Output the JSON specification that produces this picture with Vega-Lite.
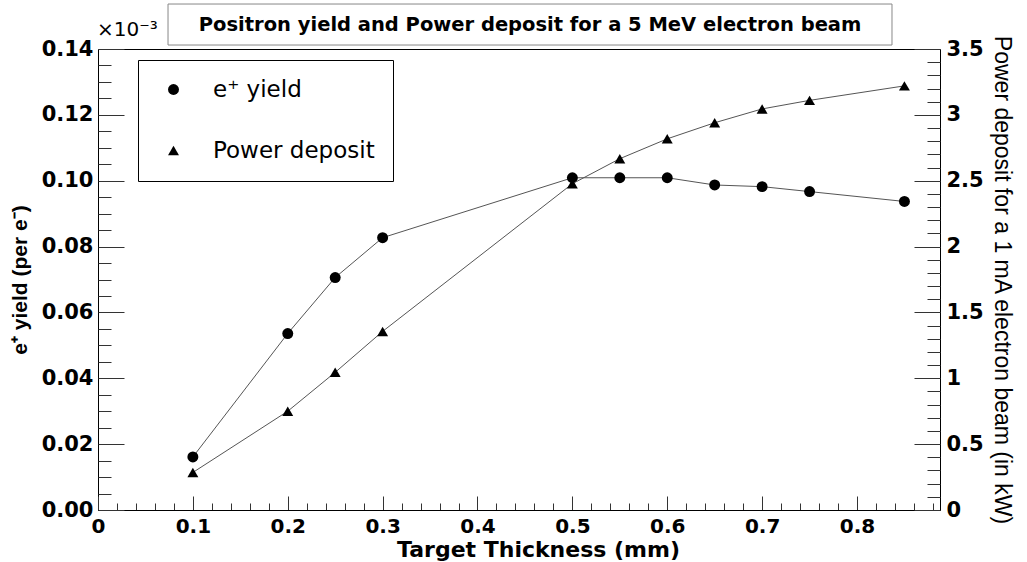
{
  "$schema": "https://vega.github.io/schema/vega-lite/v6.json",
  "width": 842,
  "height": 461,
  "autosize": {"type": "none"},
  "padding": {"left": 98, "top": 49, "right": 87, "bottom": 52},
  "background": "white",
  "config": {
    "view": {"stroke": "black", "strokeWidth": 1},
    "axis": {
      "grid": false,
      "zindex": 1,
      "domainColor": "black",
      "labelFont": "DejaVu Sans",
      "labelFontWeight": "bold",
      "labelFontSize": 21,
      "labelColor": "black",
      "ticks": true,
      "tickColor": "#333",
      "tickWidth": 1,
      "tickCount": 1000,
      "titleColor": "black",
      "labelOverlap": false,
      "labelFlush": false,
      "labelBound": false
    },
    "legend": {
      "orient": "none",
      "legendX": 40,
      "legendY": 11,
      "strokeColor": "black",
      "fillColor": "white",
      "padding": 18,
      "symbolSize": 120,
      "symbolFillColor": "black",
      "symbolStrokeColor": "black",
      "symbolStrokeWidth": 0,
      "labelFont": "DejaVu Sans",
      "labelFontSize": 23,
      "labelColor": "black",
      "labelLimit": 400,
      "rowPadding": 37,
      "labelOffset": 28,
      "symbolOffset": 6
    }
  },
  "data": {
    "values": [
      {"t": 0.1, "yield": 0.0161, "power": 0.285},
      {"t": 0.2, "yield": 0.0536, "power": 0.75},
      {"t": 0.25, "yield": 0.0706, "power": 1.045},
      {"t": 0.3, "yield": 0.0827, "power": 1.356},
      {"t": 0.5, "yield": 0.1009, "power": 2.477},
      {"t": 0.55, "yield": 0.1009, "power": 2.667},
      {"t": 0.6, "yield": 0.1009, "power": 2.818},
      {"t": 0.65, "yield": 0.0987, "power": 2.94},
      {"t": 0.7, "yield": 0.0982, "power": 3.045},
      {"t": 0.75, "yield": 0.0967, "power": 3.11},
      {"t": 0.85, "yield": 0.0937, "power": 3.22}
    ]
  },
  "layer": [
    {
      "layer": [
        {
          "mark": {"type": "line", "color": "#555", "strokeWidth": 1},
          "encoding": {
            "x": {
              "field": "t",
              "type": "quantitative",
              "scale": {"domain": [0, 0.8875], "nice": false, "zero": false},
              "axis": {
                "title": "Target Thickness (mm)",
                "titleFont": "DejaVu Sans",
                "titleFontWeight": "bold",
                "titleFontSize": 22,
                "titleX": 440,
                "titleY": 46,
                "titleAlign": "center",
                "titleBaseline": "alphabetic",
                "tickCount": 1000,
                "values": [0, 0.02, 0.04, 0.06, 0.08, 0.1, 0.12, 0.14, 0.16, 0.18, 0.2, 0.22, 0.24, 0.26, 0.28, 0.3, 0.32, 0.34, 0.36, 0.38, 0.4, 0.42, 0.44, 0.46, 0.48, 0.5, 0.52, 0.54, 0.56, 0.58, 0.6, 0.62, 0.64, 0.66, 0.68, 0.7, 0.72, 0.74, 0.76, 0.78, 0.8, 0.82, 0.84, 0.86, 0.88],
                "labelExpr": "abs(datum.value*10-round(datum.value*10))<0.001 ? (datum.value==0 ? '0' : format(datum.value, '.1f')) : ''",
                "tickSize": {"condition": {"test": "abs(datum.value*10-round(datum.value*10))<0.001", "value": -14}, "value": -7},
                "labelFontSize": 20,
                "labelPadding": 20
              }
            },
            "y": {
              "field": "yield",
              "type": "quantitative",
              "scale": {"domain": [0, 0.14], "nice": false, "zero": false},
              "axis": {
                "orient": "left",
                "offset": -26,
                "domain": false,
                "title": "e⁺ yield (per e⁻)",
                "titleFont": "Liberation Sans",
                "titleFontWeight": "bold",
                "titleFontSize": 21,
                "titlePadding": 11,
                "tickCount": 1000,
                "values": [0, 0.02, 0.04, 0.06, 0.08, 0.1, 0.12, 0.14],
                "format": ".2f",
                "tickSize": 26,
                "labelPadding": 5
              }
            }
          }
        },
        {
          "mark": {"type": "point", "filled": true, "color": "black", "size": 120, "opacity": 1},
          "encoding": {
            "x": {"field": "t", "type": "quantitative"},
            "y": {"field": "yield", "type": "quantitative"},
            "shape": {
              "datum": "e⁺ yield",
              "type": "nominal",
              "scale": {"domain": ["e⁺ yield", "Power deposit"], "range": ["circle", "triangle-up"]},
              "legend": {"title": null}
            }
          }
        },
        {
          "data": {"values": [{"label": "Positron yield and Power deposit for a 5 MeV electron beam"}]},
          "mark": {"type": "rect", "fill": "white", "stroke": "#888", "strokeWidth": 1, "clip": false},
          "encoding": {
            "x": {"datum": 0.0738, "type": "quantitative"},
            "x2": {"datum": 0.8369},
            "y": {"datum": 0.15366, "type": "quantitative"},
            "y2": {"datum": 0.14121}
          }
        },
        {
          "data": {"values": [{"label": "Positron yield and Power deposit for a 5 MeV electron beam"}]},
          "mark": {"type": "text", "font": "DejaVu Sans", "fontWeight": "bold", "fontSize": 19.5, "align": "center", "baseline": "middle", "color": "black", "clip": false},
          "encoding": {
            "x": {"datum": 0.4554, "type": "quantitative"},
            "y": {"datum": 0.14729, "type": "quantitative"},
            "text": {"field": "label"}
          }
        },
        {
          "data": {"values": [{"label": "×10⁻³"}]},
          "mark": {"type": "text", "font": "DejaVu Sans", "fontSize": 20, "align": "left", "baseline": "alphabetic", "dy": -13, "dx": -1, "color": "black", "clip": false},
          "encoding": {
            "x": {"datum": 0, "type": "quantitative"},
            "y": {"datum": 0.14, "type": "quantitative"},
            "text": {"field": "label"}
          }
        }
      ]
    },
    {
      "layer": [
        {
          "mark": {"type": "line", "color": "#555", "strokeWidth": 1},
          "encoding": {
            "x": {"field": "t", "type": "quantitative"},
            "y": {
              "field": "power",
              "type": "quantitative",
              "scale": {"domain": [0, 3.5], "nice": false, "zero": false},
              "axis": {
                "orient": "right",
                "offset": -26,
                "domain": false,
                "title": "Power deposit for a 1 mA electron beam (in kW)",
                "titleFont": "Liberation Sans",
                "titleFontWeight": "normal",
                "titleFontSize": 23,
                "titlePadding": 6,
                "tickCount": 1000,
                "values": [0, 0.5, 1, 1.5, 2, 2.5, 3, 3.5],
                "format": "~g",
                "tickSize": 26,
                "labelPadding": 6
              }
            }
          }
        },
        {
          "mark": {"type": "point", "filled": true, "color": "black", "size": 120, "opacity": 1},
          "encoding": {
            "x": {"field": "t", "type": "quantitative"},
            "y": {"field": "power", "type": "quantitative"},
            "shape": {"datum": "Power deposit", "type": "nominal"}
          }
        }
      ]
    },
    {
      "mark": {"type": "point", "opacity": 0},
      "encoding": {
        "x": {"field": "t", "type": "quantitative"},
        "y": {
          "field": "yield",
          "type": "quantitative",
          "scale": {"domain": [0, 0.14], "nice": false, "zero": false},
          "axis": {
            "orient": "left",
            "offset": -13,
            "title": null,
            "labels": false,
            "domain": false,
            "tickCount": 1000,
            "tickSize": 13,
            "values": [0.005, 0.01, 0.015, 0.025, 0.03, 0.035, 0.045, 0.05, 0.055, 0.065, 0.07, 0.075, 0.085, 0.09, 0.095, 0.105, 0.11, 0.115, 0.125, 0.13, 0.135]
          }
        }
      }
    },
    {
      "mark": {"type": "point", "opacity": 0},
      "encoding": {
        "x": {"field": "t", "type": "quantitative"},
        "y": {
          "field": "power",
          "type": "quantitative",
          "scale": {"domain": [0, 3.5], "nice": false, "zero": false},
          "axis": {
            "orient": "right",
            "offset": -13,
            "title": null,
            "labels": false,
            "domain": false,
            "tickCount": 1000,
            "tickSize": 13,
            "values": [0.1, 0.2, 0.3, 0.4, 0.6, 0.7, 0.8, 0.9, 1.1, 1.2, 1.3, 1.4, 1.6, 1.7, 1.8, 1.9, 2.1, 2.2, 2.3, 2.4, 2.6, 2.7, 2.8, 2.9, 3.1, 3.2, 3.3, 3.4]
          }
        }
      }
    }
  ],
  "resolve": {"scale": {"y": "independent"}}
}
